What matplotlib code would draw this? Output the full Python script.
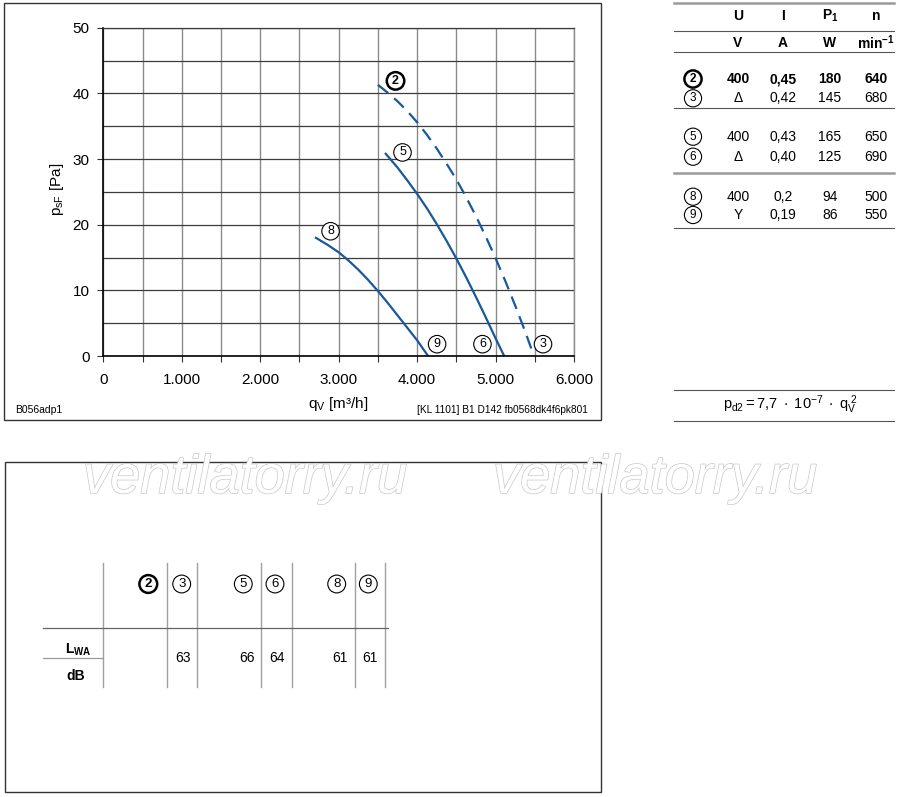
import matplotlib.pyplot as plt
import matplotlib.patheffects as pe
from matplotlib.patches import Rectangle

plt.rcParams['font.family'] = ['Liberation Sans', 'DejaVu Sans']
plt.rcParams['mathtext.fontset'] = 'custom'
plt.rcParams['mathtext.rm'] = 'Liberation Sans'
plt.rcParams['mathtext.it'] = 'Liberation Sans:italic'
plt.rcParams['mathtext.bf'] = 'Liberation Sans:bold'

# fan curves, q in m3/h, p in Pa
q_23 = [3500, 3625, 3750, 3875, 4000, 4125, 4250, 4375, 4500, 4625,
        4750, 4875, 5000, 5125, 5250, 5375, 5490]
p_23 = [41.3, 40.1, 38.8, 37.3, 35.6, 33.7, 31.6, 29.3, 26.9, 24.2,
        21.3, 18.2, 14.9, 11.4, 7.7, 3.8, 0.0]
q_56 = [3600, 3750, 3875, 4000, 4125, 4250, 4375, 4500, 4625, 4750,
        4875, 5000, 5110]
p_56 = [30.8, 28.7, 26.75, 24.7, 22.5, 20.1, 17.55, 14.85, 12.0, 9.0,
        5.9, 2.7, 0.0]
q_89 = [2710, 2850, 3000, 3125, 3250, 3375, 3500, 3625, 3750, 3875,
        4000, 4140]
p_89 = [18.0, 17.0, 15.8, 14.55, 13.15, 11.6, 9.9, 8.1, 6.2, 4.3,
        2.4, 0.0]

x_ticks = [0, 1000, 2000, 3000, 4000, 5000, 6000]
x_ticklabels = ['0', '1.000', '2.000', '3.000', '4.000', '5.000', '6.000']
y_ticks = [0, 10, 20, 30, 40, 50]

# electrical data table
tags = ['2', '3', '5', '6', '8', '9']
volt = ['400', 'Δ', '400', 'Δ', '400', 'Y']
amps = ['0,45', '0,42', '0,43', '0,40', '0,2', '0,19']
power = ['180', '145', '165', '125', '94', '86']
speed = ['640', '680', '650', '690', '500', '550']

# sound power levels
lwa_tags = ['2', '3', '5', '6', '8', '9']
lwa_vals = ['', '63', '66', '64', '61', '61']

blue = '#17599a'

fig = plt.figure(figsize=(9, 7.97), dpi=100)
ax = fig.add_axes([103.3 / 900, 1 - 356 / 797, 470.7 / 900, 328.3 / 797])

ax.plot(q_23, p_23, color=blue, lw=1.6, ls=(0, (6, 3.5)))
ax.plot(q_56, p_56, color=blue, lw=1.6)
ax.plot(q_89, p_89, color=blue, lw=1.6)

ax.set_xlim(0, 6000)
ax.set_ylim(0, 50)
ax.set_xticks(x_ticks)
ax.set_xticklabels(x_ticklabels)
ax.set_xticks(range(500, 6000, 1000), minor=True)
ax.set_yticks(y_ticks)
ax.set_yticks(range(5, 50, 10), minor=True)
ax.xaxis.grid(True, which='both', color='#8a8a8a', lw=1.0)
ax.yaxis.grid(True, which='both', color='#3c3c3c', lw=0.9)
ax.set_axisbelow(True)
ax.tick_params(axis='both', which='both', direction='out', length=4, width=0.8,
               color='#333333', labelsize=11)
ax.tick_params(axis='x', which='both', pad=8)
ax.tick_params(axis='y', which='both', pad=6)
ax.tick_params(axis='y', which='minor', length=0)
for side in ['left', 'bottom']:
    ax.spines[side].set_color('black')
    ax.spines[side].set_linewidth(1.2)
ax.spines['top'].set_color('#3c3c3c')
ax.spines['top'].set_linewidth(0.9)
ax.spines['right'].set_color('#8a8a8a')
ax.spines['right'].set_linewidth(1.0)

ax.set_ylabel(r'$\mathregular{p_{sF}}$ [Pa]', fontsize=11)
ax.yaxis.set_label_coords(-0.079, 0.506)
ax.set_xlabel(r'$\mathregular{q_V}$ [m³/h]', fontsize=11)
ax.xaxis.set_label_coords(0.4986, -0.118)


def circled(a, x, y, s, bold=False, fs=9, **kw):
    a.text(x, y, s, ha='center', va='center', fontsize=fs,
           fontweight='bold' if bold else 'normal', zorder=5,
           bbox=dict(boxstyle='circle,pad=0.22', fc='white', ec='black',
                     lw=1.8 if bold else 0.8), **kw)


circled(ax, 3725, 41.9, '2', bold=True)
circled(ax, 3814, 31.0, '5')
circled(ax, 2897, 19.0, '8')
circled(ax, 4255, 1.8, '9')
circled(ax, 4833, 1.8, '6')
circled(ax, 5605, 1.8, '3')

# overlay in pixel units for frames and tables
ov = fig.add_axes([0, 0, 1, 1])
ov.set_xlim(0, 900)
ov.set_ylim(797, 0)
ov.axis('off')

ov.add_patch(Rectangle((4, 3), 597, 417, fill=False, ec='#333333', lw=1.0))
ov.add_patch(Rectangle((5, 462), 596, 330, fill=False, ec='#333333', lw=1.0))
ov.text(15, 410, 'B056adp1', fontsize=7.5, va='center', ha='left')
ov.text(588, 410, '[KL 1101] B1 D142 fb0568dk4f6pk801', fontsize=7.3,
        va='center', ha='right')

# watermark
for wx in [245, 655]:
    ov.text(wx, 479, 'ventilatorry.ru', fontsize=39, style='italic', color='white',
            ha='center', va='center', zorder=6,
            path_effects=[pe.Stroke(linewidth=1.0, foreground='#c8c8c8'), pe.Normal()])

# electrical data table
col_x = [738, 783, 830, 876]
for x, s in zip(col_x, ['U', 'I', r'$\mathbf{P_1}$', 'n']):
    ov.text(x, 16, s, ha='center', va='center', fontsize=10, fontweight='bold')
for x, s in zip(col_x, ['V', 'A', 'W', r'$\mathbf{min^{-1}}$']):
    ov.text(x, 43, s, ha='center', va='center', fontsize=10, fontweight='bold')

row_y = [79, 98.3, 136.7, 156.7, 196.7, 215]
for i, y in enumerate(row_y):
    bold = i == 0
    fw = 'bold' if bold else 'normal'
    circled(ov, 693, y, tags[i], bold=bold, fs=8.5)
    for x, s in zip(col_x, [volt[i], amps[i], power[i], speed[i]]):
        ov.text(x, y, s, ha='center', va='center', fontsize=10, fontweight=fw)

for y, c, w in [(3, '#9a9a9a', 1.8), (30.7, '#555555', 0.8), (52.3, '#555555', 0.8),
                (108.3, '#555555', 0.8), (173.3, '#9a9a9a', 1.8), (228.3, '#555555', 0.8),
                (390, '#555555', 0.8), (420.7, '#555555', 0.8)]:
    ov.plot([674, 894], [y, y], color=c, lw=w)

ov.text(790, 405, r'$\mathregular{p_{d2} = 7{,}7\ \cdot\ 10^{-7}\ \cdot\ q_V^{\ 2}}$',
        ha='center', va='center', fontsize=10.5)

# sound power table
for x in [103.3, 166.7, 197.3, 261, 291.7, 355, 385]:
    ov.plot([x, x], [563, 687], color='#a0a0a0', lw=1.0)
ov.plot([43, 388], [628, 628], color='#666666', lw=0.9)
ov.plot([43, 103.3], [658.3, 658.3], color='#999999', lw=0.9)

snd_x = [148.3, 181.7, 243.3, 275, 336.7, 368.3]
val_right = [160, 190.5, 254.5, 284.7, 348, 378]
for x, xr, t, v in zip(snd_x, val_right, lwa_tags, lwa_vals):
    circled(ov, x, 584, t, bold=(t == '2'), fs=9.5)
    ov.text(xr, 658, v, ha='right', va='center', fontsize=10)
ov.text(78, 650, r'$\mathbf{L_{WA}}$', ha='center', va='center', fontsize=10)
ov.text(76, 676, 'dB', ha='center', va='center', fontsize=10, fontweight='bold')

fig.savefig('out.png', dpi=100)
plt.close(fig)
